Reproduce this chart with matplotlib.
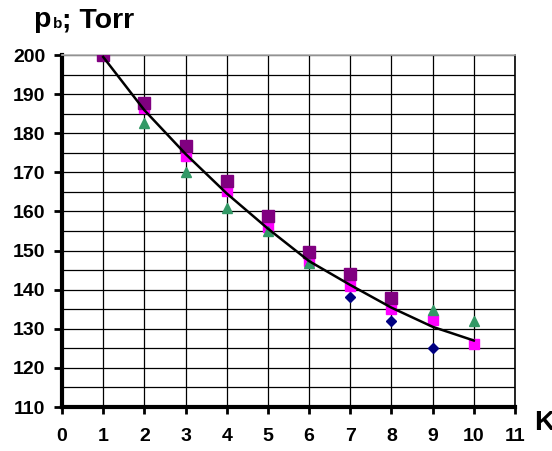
import matplotlib
matplotlib.use("Agg")
import matplotlib.pyplot as plt
import numpy as np

plt.rcParams['font.family'] = ['Liberation Sans', 'DejaVu Sans']

# data
x_purple = [1, 2, 3, 4, 5, 6, 7, 8]
y_purple = [200, 187.8, 176.8, 167.9, 158.9, 149.7, 144.1, 137.9]

x_magenta = [1, 2, 3, 4, 5, 6, 7, 8, 9, 10]
y_magenta = [200, 186.4, 174.2, 165.2, 156.0, 147.3, 140.9, 135.0, 132.2, 126.2]

x_green = [2, 3, 4, 5, 6, 9, 10]
y_green = [182.7, 170.0, 160.8, 155.0, 146.7, 134.8, 132.0]

x_blue = [7, 8, 9]
y_blue = [138.1, 132.0, 125.0]

x_trend = [1, 2, 3, 4, 5, 6, 7, 8, 9, 10]
y_trend = [199.5, 185.9, 174.7, 164.6, 155.6, 147.3, 141.2, 135.4, 130.5, 127.0]

fig = plt.figure(figsize=(5.52, 4.51), dpi=100)
ax = fig.add_axes([62/552, 44/451, 453/552, 352/451])

ax.plot(x_blue, y_blue, linestyle='none', marker='D', markersize=5.5,
        color='#000080', zorder=3)
ax.plot(x_magenta, y_magenta, linestyle='none', marker='s', markersize=7.5,
        color='#FF00FF', zorder=4)
ax.plot(x_green, y_green, linestyle='none', marker='^', markersize=7,
        color='#339966', zorder=5)
ax.plot(x_purple, y_purple, linestyle='none', marker='s', markersize=8,
        color='#800080', zorder=6)
ax.plot(x_trend, y_trend, color='black', linewidth=1.8, zorder=7)

ax.set_xlim(0, 11)
ax.set_ylim(110, 200)
ax.set_xticks(np.arange(0, 12, 1))
ax.set_yticks(np.arange(110, 201, 10))
ax.set_yticks(np.arange(115, 200, 10), minor=True)

ax.grid(True, which='both', color='black', linewidth=0.9)
ax.set_axisbelow(True)
ax.tick_params(axis='y', which='minor', length=0)
ax.tick_params(axis='y', which='major', direction='out', length=6, width=2,
               pad=6, labelsize=14)
ax.tick_params(axis='x', which='major', direction='out', length=5, width=2,
               pad=10, labelsize=14)
for lab in ax.get_xticklabels() + ax.get_yticklabels():
    lab.set_fontweight('bold')

ax.spines['left'].set_linewidth(3)
ax.spines['bottom'].set_linewidth(3)
ax.spines['right'].set_linewidth(1.2)
ax.spines['top'].set_linewidth(1.2)
ax.spines['top'].set_color('#b0b0b0')

# axis titles
fig.text(33/552, 1 - 27/451, 'p', fontsize=20.5, fontweight='bold', va='baseline')
fig.text(52.5/552, 1 - 28/451, 'b', fontsize=11, fontweight='bold', va='baseline')
fig.text(61.5/552, 1 - 27/451, '; Torr', fontsize=20.5, fontweight='bold', va='baseline')
fig.text(534/552, 1 - 430/451, 'K', fontsize=20.5, fontweight='bold', va='baseline')

fig.savefig('out.png', dpi=100)
